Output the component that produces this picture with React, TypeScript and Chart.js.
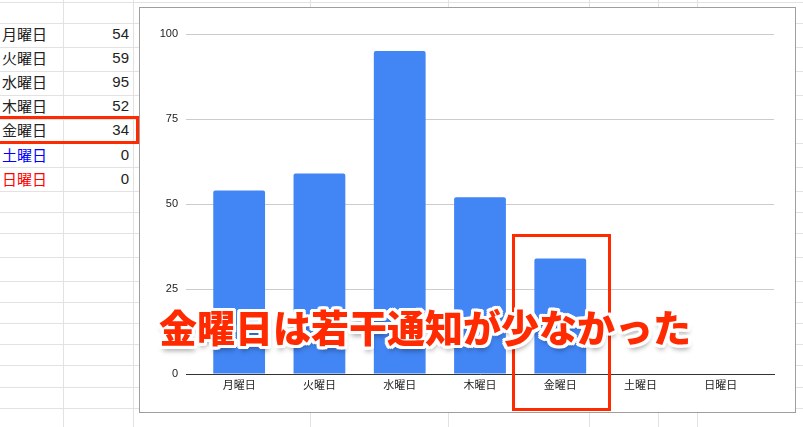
import { useEffect, useRef } from "react";
import { Chart, registerables } from "chart.js";
import type { ChartConfiguration } from "chart.js";

Chart.register(...registerables);

const days = ["月曜日", "火曜日", "水曜日", "木曜日", "金曜日", "土曜日", "日曜日"];
const notifyCounts = [54, 59, 95, 52, 34, 0, 0];
const dayColors = ["#222", "#222", "#222", "#222", "#222", "#0000ff", "#ff0000"];
const yTicks = [0, 25, 50, 75, 100];
const rowLines = [2, 23, 47, 71, 95, 119, 143, 167, 191, 212, 233, 257, 281, 302, 323, 344, 365, 387, 408];
const colLines = [63, 133, 310, 448, 589, 658, 697];
const rowCenters = [34, 58, 82, 106, 130, 155, 179];

const RED = "#ff2a00";

function NotifyChart() {
  const canvasRef = useRef<HTMLCanvasElement>(null);
  const chartRef = useRef<Chart | null>(null);

  useEffect(() => {
    if (!canvasRef.current) return;
    if (chartRef.current) chartRef.current.destroy();

    const config: ChartConfiguration<"bar"> = {
      type: "bar",
      data: {
        datasets: [
          {
            label: "通知数",
            data: notifyCounts.map((v, i) => ({ x: i, y: v })) as any,
            backgroundColor: "#4285f4",
            borderRadius: 2,
            borderSkipped: "start",
            categoryPercentage: 1,
            barPercentage: 0.645,
          },
        ],
      },
      options: {
        responsive: true,
        maintainAspectRatio: false,
        animation: false,
        layout: { padding: { top: 26, right: 21, left: 0, bottom: 0 } },
        plugins: {
          legend: { display: false },
          tooltip: { enabled: false },
        },
        scales: {
          x: {
            type: "linear",
            offset: false,
            min: -0.662,
            max: days.length - 1 + 0.662,
            grid: { display: false, drawTicks: false, offset: false },
            border: { display: true, color: "#333", width: 1 },
            afterBuildTicks: (axis: any) => {
              axis.ticks = days.map((_, i) => ({ value: i }));
            },
            afterFit: (scale: any) => {
              scale.height = 38;
            },
            ticks: {
              autoSkip: false,
              maxRotation: 0,
              padding: 5,
              color: "#222",
              font: { size: 11, family: "Arial, 'Liberation Sans', 'Noto Sans CJK JP'" },
              callback: (value: any) => days[value as number] ?? "",
            },
          },
          y: {
            min: 0,
            max: 100,
            afterBuildTicks: (axis: any) => {
              axis.ticks = yTicks.map((v) => ({ value: v }));
            },
            afterFit: (scale: any) => {
              scale.width = 46;
            },
            grid: { color: "#cccccc", drawTicks: false },
            border: { display: false },
            ticks: {
              padding: 8,
              color: "#222",
              font: { size: 11, family: "Arial, 'Liberation Sans'" },
            },
          },
        },
      },
    };

    chartRef.current = new Chart(canvasRef.current, config);

    return () => {
      if (chartRef.current) {
        chartRef.current.destroy();
        chartRef.current = null;
      }
    };
  }, []);

  return (
    <div
      style={{
        position: "absolute",
        left: 139,
        top: 7,
        width: 657,
        height: 406,
        boxSizing: "border-box",
        border: "1px solid #9e9e9e",
        background: "#fff",
      }}
    >
      <div style={{ position: "relative", width: 655, height: 404 }}>
        <canvas ref={canvasRef}></canvas>
      </div>
    </div>
  );
}

export default function App() {
  const outline = [
    "3px 0 0 #fff", "-3px 0 0 #fff", "0 3px 0 #fff", "0 -3px 0 #fff",
    "2px 2px 0 #fff", "-2px 2px 0 #fff", "2px -2px 0 #fff", "-2px -2px 0 #fff",
    "3px 2px 0 #fff", "-3px 2px 0 #fff", "3px -2px 0 #fff", "-3px -2px 0 #fff",
    "2px 3px 0 #fff", "-2px 3px 0 #fff", "2px -3px 0 #fff", "-2px -3px 0 #fff",
    "1px 5px 5px rgba(0,0,0,0.35)",
  ].join(", ");

  return (
    <div
      style={{
        position: "fixed",
        left: 0,
        top: 0,
        width: 803,
        height: 427,
        overflow: "hidden",
        background: "#fff",
        fontFamily: "Arial, 'Liberation Sans', 'Noto Sans CJK JP', sans-serif",
      }}
    >
      {rowLines.map((y) => (
        <div key={"r" + y} style={{ position: "absolute", left: 0, top: y, width: 803, height: 1, background: "#e2e2e2" }} />
      ))}
      {colLines.map((x) => (
        <div key={"c" + x} style={{ position: "absolute", left: x, top: 0, width: 1, height: 427, background: "#e2e2e2" }} />
      ))}

      {days.map((d, i) => (
        <div
          key={d}
          style={{
            position: "absolute",
            left: 2,
            top: rowCenters[i] - 10,
            height: 20,
            lineHeight: "20px",
            fontSize: 15,
            color: dayColors[i],
            fontFamily: "'Noto Sans CJK JP', sans-serif",
          }}
        >
          {d}
        </div>
      ))}
      {notifyCounts.map((v, i) => (
        <div
          key={"v" + i}
          style={{
            position: "absolute",
            right: 803 - 129,
            top: rowCenters[i] - 10,
            height: 20,
            lineHeight: "20px",
            fontSize: 15,
            color: "#222",
            textAlign: "right",
          }}
        >
          {v}
        </div>
      ))}

      <div
        style={{
          position: "absolute",
          left: -3,
          top: 116,
          width: 142,
          height: 28,
          boxSizing: "border-box",
          border: `3px solid ${RED}`,
        }}
      />

      <NotifyChart />

      <div
        style={{
          position: "absolute",
          left: 512,
          top: 234,
          width: 99,
          height: 177,
          boxSizing: "border-box",
          border: `3px solid ${RED}`,
        }}
      />

      <div
        style={{
          position: "absolute",
          left: 159,
          top: 307,
          fontSize: 38,
          lineHeight: "38px",
          fontWeight: 900,
          color: RED,
          whiteSpace: "nowrap",
          fontFamily: "'Noto Sans CJK JP', sans-serif",
          textShadow: outline,
        }}
      >
        金曜日は若干通知が少なかった
      </div>
    </div>
  );
}
